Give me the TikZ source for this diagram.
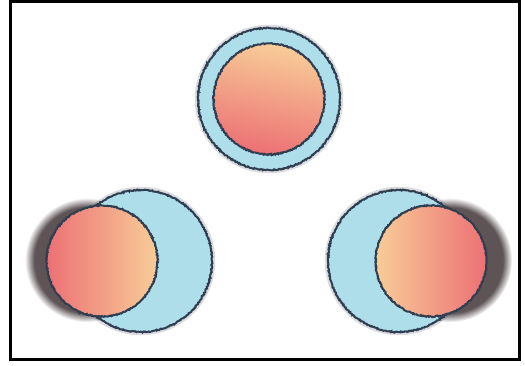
\documentclass[tikz,border=0pt]{standalone}
\usepackage{xcolor}
\usepackage{tikz}
\usetikzlibrary{positioning,decorations.pathmorphing,fadings}
\definecolor{skyfill}{RGB}{173,222,234}
\definecolor{rimcol}{RGB}{48,62,82}
\definecolor{peach}{RGB}{248,205,152}
\definecolor{rose}{RGB}{236,112,116}
\definecolor{castcol}{RGB}{94,84,86}
\tikzset{
  rough/.style ={decorate, decoration={random steps, segment length=0.9pt, amplitude=0.55pt}},
  ring/.style  ={circle, draw=rimcol, line width=2pt, fill=skyfill, inner sep=0pt,
                 minimum size=142pt, rough},
  core/.style  ={circle, draw=rimcol, line width=2pt, inner sep=0pt,
                 minimum size=111pt, rough},
  glow/.style  ={draw=rimcol, line width=4.5pt, opacity=0.18},
  cast/.style  ={fill=castcol, path fading=circle with fuzzy edge 15 percent},
}

\begin{document}
\begin{tikzpicture}[x=1pt, y=-1pt]
    \useasboundingbox (0,0) rectangle (525,366);
    % frame
    \draw[line width=3pt] (10.5,1.5) rectangle (519.5,359.5);
    % top: core inside ring
    \draw[glow] (269,99) circle (72);
    \node[ring] (topring) at (269,99) {};
    \node[core, top color=peach, bottom color=rose, shading angle=-12] (topcore) at (topring.center) {};
    % left: core shifted left, shadow behind
    \fill[cast] (87,260) circle (62);
    \draw[glow] (141,261) circle (72);
    \node[ring] (leftring) at (141,261) {};
    \node[core, left color=rose, right color=peach] (leftcore) at ([xshift=-39pt]leftring.center) {};
    % right: mirrored
    \fill[cast] (450,260) circle (62);
    \draw[glow] (399,261) circle (72);
    \node[ring] (rightring) at (399,261) {};
    \node[core, left color=peach, right color=rose] (rightcore) at ([xshift=32pt]rightring.center) {};
  \end{tikzpicture}
\end{document}
